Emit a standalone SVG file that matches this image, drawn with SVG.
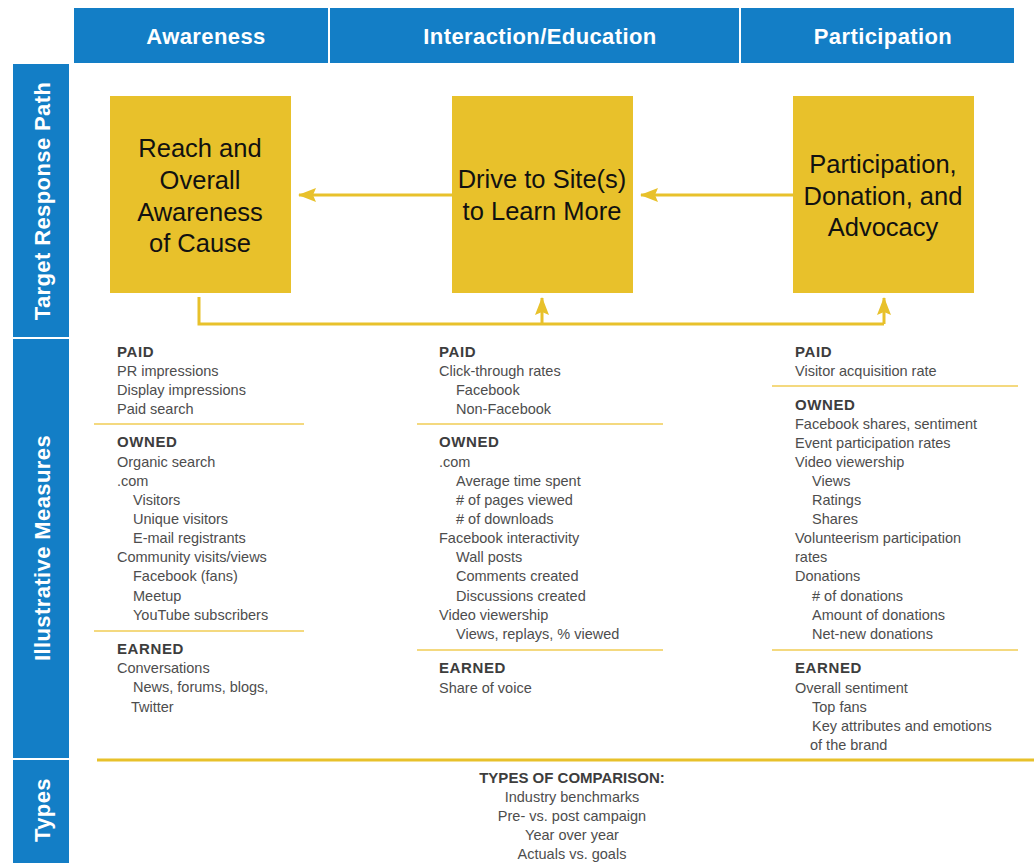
<svg xmlns="http://www.w3.org/2000/svg" width="1036" height="863" viewBox="0 0 1036 863">
<defs>
<style>
.blue{fill:#137ec6}
.hd{font-family:"Liberation Sans",Arial,sans-serif;font-weight:bold;font-size:22px;fill:#fff;letter-spacing:0.4px;text-anchor:middle}
.box{fill:#e8c12b}
.bt{font-family:"Liberation Sans",Arial,sans-serif;font-size:25.5px;fill:#111;text-anchor:middle}
.b{font-family:"Liberation Sans",Arial,sans-serif;font-size:14.5px;fill:#4d4d4d}
.lbl{font-family:"Liberation Sans",Arial,sans-serif;font-size:15px;font-weight:bold;fill:#3d3d3d;letter-spacing:0.6px}
.sep{stroke:#f0cd55;stroke-width:1.5;fill:none}
.con{stroke:#e8c12b;stroke-width:3;fill:none}
</style>
<marker id="ah" markerUnits="userSpaceOnUse" markerWidth="18" markerHeight="14" refX="17" refY="7" orient="auto">
<path d="M0,0 L18,7 L0,14 L3,7 z" fill="#e8c12b"/>
</marker>
</defs>
<rect width="1036" height="863" fill="#fff"/>

<g id="header">
<rect class="blue" x="74" y="8" width="940" height="55"/>
<line x1="329" y1="8" x2="329" y2="63" stroke="#fff" stroke-width="2"/>
<line x1="740" y1="8" x2="740" y2="63" stroke="#fff" stroke-width="2"/>
<text class="hd" x="206" y="44">Awareness</text>
<text class="hd" x="540" y="44">Interaction/Education</text>
<text class="hd" x="883" y="44">Participation</text>
</g>

<g id="side-target">
<rect class="blue" x="13" y="64" width="56" height="273"/>
<text class="hd" transform="translate(50,201) rotate(-90)">Target Response Path</text>
</g>
<g id="side-measures">
<rect class="blue" x="13" y="339" width="56" height="419"/>
<text class="hd" transform="translate(50,548) rotate(-90)">Illustrative Measures</text>
</g>
<g id="side-types">
<rect class="blue" x="13" y="760" width="56" height="103"/>
<text class="hd" transform="translate(50,810) rotate(-90)">Types</text>
</g>

<g id="node-reach">
<rect class="box" x="110" y="96" width="181" height="197"/>
<text class="bt"><tspan x="200" y="157">Reach and</tspan><tspan x="200" y="189">Overall</tspan><tspan x="200" y="221">Awareness</tspan><tspan x="200" y="252">of Cause</tspan></text>
</g>
<g id="node-drive">
<rect class="box" x="452" y="96" width="181" height="197"/>
<text class="bt"><tspan x="542" y="188">Drive to Site(s)</tspan><tspan x="542" y="220">to Learn More</tspan></text>
</g>
<g id="node-participation">
<rect class="box" x="793" y="96" width="181" height="197"/>
<text class="bt"><tspan x="883" y="173">Participation,</tspan><tspan x="883" y="205">Donation, and</tspan><tspan x="883" y="236">Advocacy</tspan></text>
</g>

<g id="connectors">
<line class="con" x1="452" y1="195" x2="299" y2="195" marker-end="url(#ah)"/>
<line class="con" x1="793" y1="195" x2="641" y2="195" marker-end="url(#ah)"/>
<polyline class="con" points="199,297 199,324 884,324"/>
<line class="con" x1="542" y1="324" x2="542" y2="298" marker-end="url(#ah)"/>
<line class="con" x1="884" y1="324" x2="884" y2="298" marker-end="url(#ah)"/>
</g>

<g id="measures-awareness">
<text class="lbl" x="117" y="357">PAID</text>
<text class="b" x="117" y="376">PR impressions</text>
<text class="b" x="117" y="395">Display impressions</text>
<text class="b" x="117" y="414">Paid search</text>
<line class="sep" x1="94" y1="424" x2="304" y2="424"/>
<text class="lbl" x="117" y="447">OWNED</text>
<text class="b" x="117" y="467">Organic search</text>
<text class="b" x="117" y="486">.com</text>
<text class="b" x="133" y="505">Visitors</text>
<text class="b" x="133" y="524">Unique visitors</text>
<text class="b" x="133" y="543">E-mail registrants</text>
<text class="b" x="117" y="562">Community visits/views</text>
<text class="b" x="133" y="581">Facebook (fans)</text>
<text class="b" x="133" y="601">Meetup</text>
<text class="b" x="133" y="620">YouTube subscribers</text>
<line class="sep" x1="94" y1="631" x2="304" y2="631"/>
<text class="lbl" x="117" y="654">EARNED</text>
<text class="b" x="117" y="673">Conversations</text>
<text class="b" x="133" y="692">News, forums, blogs,</text>
<text class="b" x="131" y="712">Twitter</text>
</g>

<g id="measures-interaction">
<text class="lbl" x="439" y="357">PAID</text>
<text class="b" x="439" y="376">Click-through rates</text>
<text class="b" x="456" y="395">Facebook</text>
<text class="b" x="456" y="414">Non-Facebook</text>
<line class="sep" x1="417" y1="424" x2="663" y2="424"/>
<text class="lbl" x="439" y="447">OWNED</text>
<text class="b" x="439" y="467">.com</text>
<text class="b" x="456" y="486">Average time spent</text>
<text class="b" x="456" y="505"># of pages viewed</text>
<text class="b" x="456" y="524"># of downloads</text>
<text class="b" x="439" y="543">Facebook interactivity</text>
<text class="b" x="456" y="562">Wall posts</text>
<text class="b" x="456" y="581">Comments created</text>
<text class="b" x="456" y="601">Discussions created</text>
<text class="b" x="439" y="620">Video viewership</text>
<text class="b" x="456" y="639">Views, replays, % viewed</text>
<line class="sep" x1="417" y1="650" x2="663" y2="650"/>
<text class="lbl" x="439" y="673">EARNED</text>
<text class="b" x="439" y="693">Share of voice</text>
</g>

<g id="measures-participation">
<text class="lbl" x="795" y="357">PAID</text>
<text class="b" x="795" y="376">Visitor acquisition rate</text>
<line class="sep" x1="772" y1="386" x2="1018" y2="386"/>
<text class="lbl" x="795" y="410">OWNED</text>
<text class="b" x="795" y="429">Facebook shares, sentiment</text>
<text class="b" x="795" y="448">Event participation rates</text>
<text class="b" x="795" y="467">Video viewership</text>
<text class="b" x="812" y="486">Views</text>
<text class="b" x="812" y="505">Ratings</text>
<text class="b" x="812" y="524">Shares</text>
<text class="b" x="795" y="543">Volunteerism participation</text>
<text class="b" x="795" y="562">rates</text>
<text class="b" x="795" y="581">Donations</text>
<text class="b" x="812" y="601"># of donations</text>
<text class="b" x="812" y="620">Amount of donations</text>
<text class="b" x="812" y="639">Net-new donations</text>
<line class="sep" x1="772" y1="650" x2="1018" y2="650"/>
<text class="lbl" x="795" y="673">EARNED</text>
<text class="b" x="795" y="693">Overall sentiment</text>
<text class="b" x="812" y="712">Top fans</text>
<text class="b" x="812" y="731">Key attributes and emotions</text>
<text class="b" x="810" y="750">of the brand</text>
</g>

<g id="types">
<line x1="97" y1="760" x2="1034" y2="760" stroke="#e8c12b" stroke-width="3"/>
<text class="lbl" x="572" y="783" text-anchor="middle" style="letter-spacing:0">TYPES OF COMPARISON:</text>
<text class="b" x="572" y="802" text-anchor="middle">Industry benchmarks</text>
<text class="b" x="572" y="821" text-anchor="middle">Pre- vs. post campaign</text>
<text class="b" x="572" y="840" text-anchor="middle">Year over year</text>
<text class="b" x="572" y="859" text-anchor="middle">Actuals vs. goals</text>
</g>
</svg>
